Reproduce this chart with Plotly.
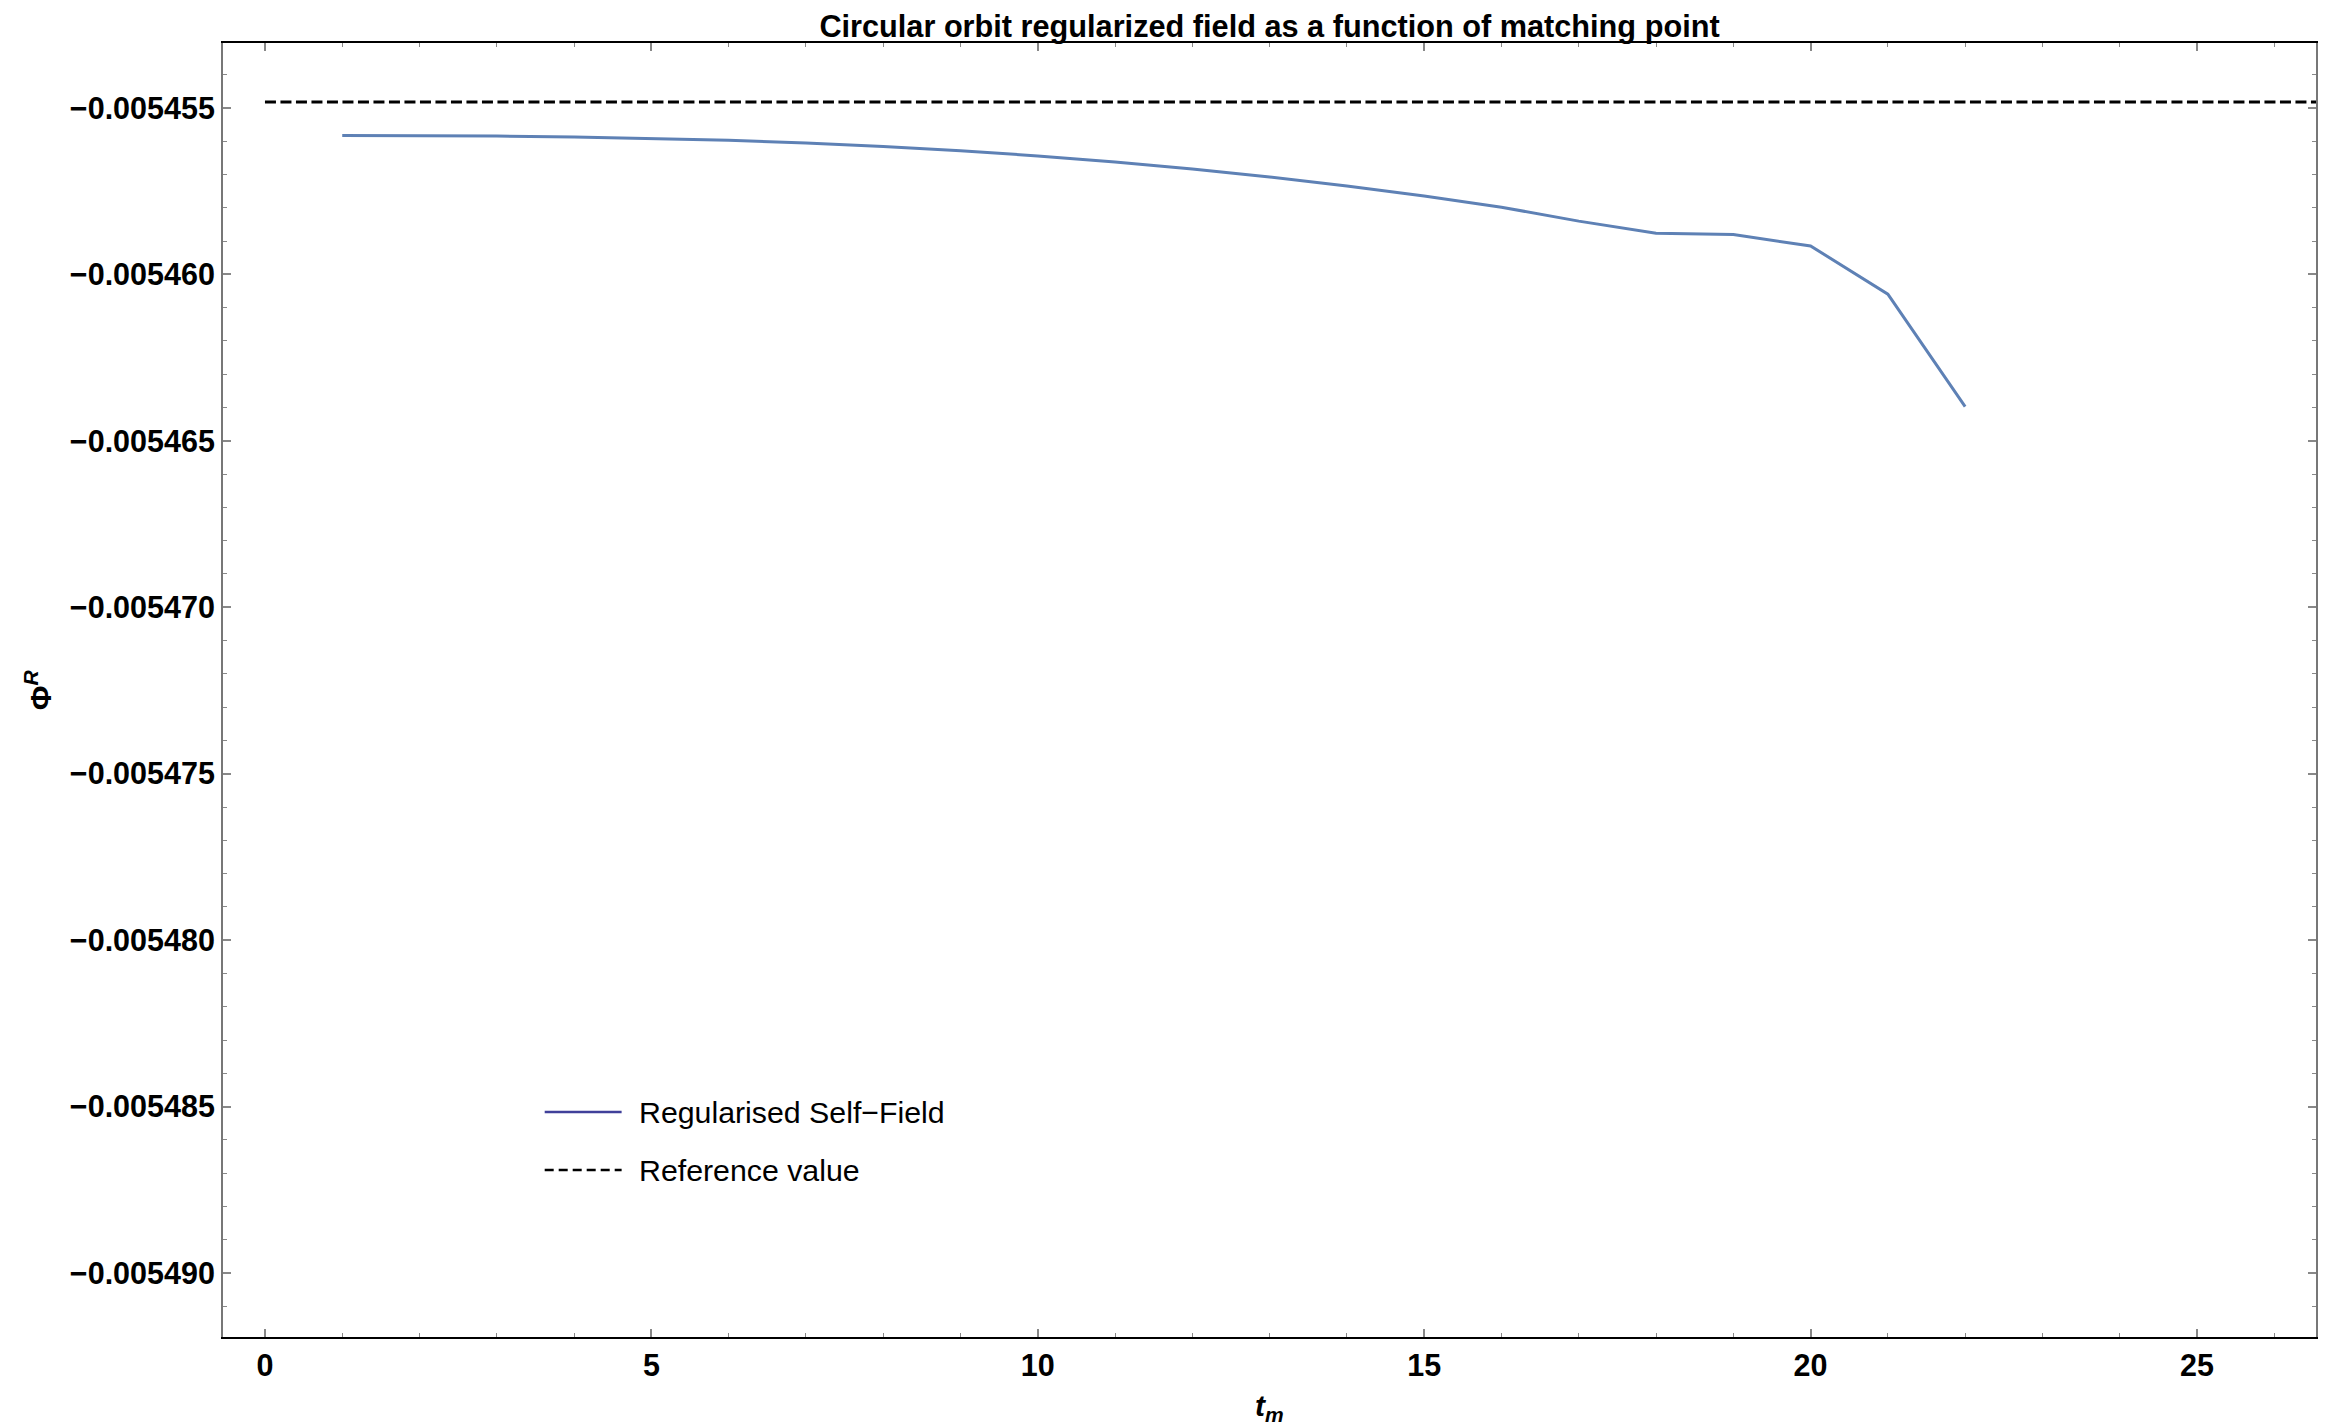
import plotly.graph_objects as go

# Matching point t_m and the regularised self-field at each point
t_match = [1, 2, 3, 4, 5, 6, 7, 8, 9, 10, 11, 12, 13, 14, 15, 16, 17, 18, 19, 20, 21, 22]
phi_r = [
    -0.005455832, -0.005455835, -0.005455847, -0.005455872, -0.005455914,
    -0.005455975, -0.005456056, -0.005456160, -0.005456289, -0.005456442,
    -0.005456622, -0.005456832, -0.005457073, -0.005457343, -0.005457647,
    -0.005457983, -0.005458401, -0.005458764, -0.005458806, -0.005459146,
    -0.005460596, -0.005463973,
]

# Reference value of the regularised field
phi_ref = -0.00545482

# Axis extents
x_range = [-0.543, 26.54]
y_range = [-0.00549192, -0.00545305]

x_tickvals = [0, 5, 10, 15, 20, 25]
x_ticktext = ["0", "5", "10", "15", "20", "25"]
y_tickvals = [-0.005455, -0.005460, -0.005465, -0.005470, -0.005475, -0.005480, -0.005485, -0.005490]
y_ticktext = ["\u22120.005455", "\u22120.005460", "\u22120.005465", "\u22120.005470",
              "\u22120.005475", "\u22120.005480", "\u22120.005485", "\u22120.005490"]

legend_labels = ["Regularised Self\u2212Field", "Reference value"]

W, H = 2328, 1426
M_L, M_R, M_T, M_B = 223, 10, 43, 89

CURVE = "#5e81b5"
FONT = "Liberation Sans, Arial, sans-serif"

fig = go.Figure()

fig.add_trace(go.Scatter(
    x=t_match, y=phi_r, mode="lines",
    line=dict(color=CURVE, width=3),
    name=legend_labels[0], showlegend=False, hoverinfo="x+y",
))

fig.add_trace(go.Scatter(
    x=[0, x_range[1]], y=[phi_ref, phi_ref], mode="lines",
    line=dict(color="black", width=3, dash="11px,4.5px"),
    name=legend_labels[1], showlegend=False, hoverinfo="y",
))

tick_font = dict(family=FONT, size=30.5, color="black", weight="bold")

fig.update_xaxes(
    range=x_range, tickmode="array", tickvals=x_tickvals, ticktext=x_ticktext,
    ticks="inside", ticklen=8, tickwidth=1.5, tickcolor="#888888",
    minor=dict(ticks="inside", ticklen=4, tickwidth=1.2, tickcolor="#888888", dtick=1, tick0=0),
    showline=True, linecolor="black", linewidth=2, mirror="allticks",
    showgrid=False, zeroline=False, tickfont=tick_font,
)
fig.update_yaxes(
    range=y_range, tickmode="array", tickvals=y_tickvals, ticktext=y_ticktext,
    ticks="inside", ticklen=8, tickwidth=1.5, tickcolor="#888888",
    minor=dict(ticks="inside", ticklen=4, tickwidth=1.2, tickcolor="#888888", dtick=1e-6, tick0=-0.005455),
    showline=True, linecolor="#777777", linewidth=2, mirror="allticks",
    showgrid=False, zeroline=False, tickfont=tick_font,
)

# Legend block drawn in pixel-aligned paper coordinates
def px_x(px):
    return (px - M_L) / (W - M_L - M_R)

def px_y(py):
    return 1 - (py - M_T) / (H - M_T - M_B)

legend_rows = [
    dict(y=1112, color="#40409a", dash="solid"),
    dict(y=1170, color="black", dash="9px,5px"),
]
for row, label in zip(legend_rows, legend_labels):
    fig.add_shape(type="line", xref="paper", yref="paper",
                  x0=px_x(545), x1=px_x(622), y0=px_y(row["y"]), y1=px_y(row["y"]),
                  line=dict(color=row["color"], width=2.5, dash=row["dash"]))
    fig.add_annotation(xref="paper", yref="paper", x=px_x(637), y=px_y(row["y"]),
                       xanchor="left", yanchor="middle", showarrow=False,
                       text=label, font=dict(family=FONT, size=30.3, color="black"))

# Axis labels
fig.add_annotation(xref="paper", yref="paper", x=px_x(1270), y=px_y(1408),
                   xanchor="center", yanchor="middle", showarrow=False,
                   text="<i>t</i><sub><i>m</i></sub>",
                   font=dict(family=FONT, size=30, color="black", weight="bold"))
fig.add_annotation(xref="paper", yref="paper", x=px_x(38), y=px_y(690),
                   xanchor="center", yanchor="middle", showarrow=False, textangle=-90,
                   text="\u03a6<sup><i>R</i></sup>",
                   font=dict(family=FONT, size=30, color="black", weight="bold"))

fig.update_layout(
    width=W, height=H,
    margin=dict(l=M_L, r=M_R, t=M_T, b=M_B),
    paper_bgcolor="white", plot_bgcolor="white",
    showlegend=False,
    title=dict(
        text="Circular orbit regularized field as a function of matching point",
        x=0.5, xref="paper", xanchor="center",
        y=1 - 26 / H, yref="container", yanchor="middle",
        font=dict(family=FONT, size=30.7, color="black", weight="bold"),
    ),
)

fig.write_html("out.html")
